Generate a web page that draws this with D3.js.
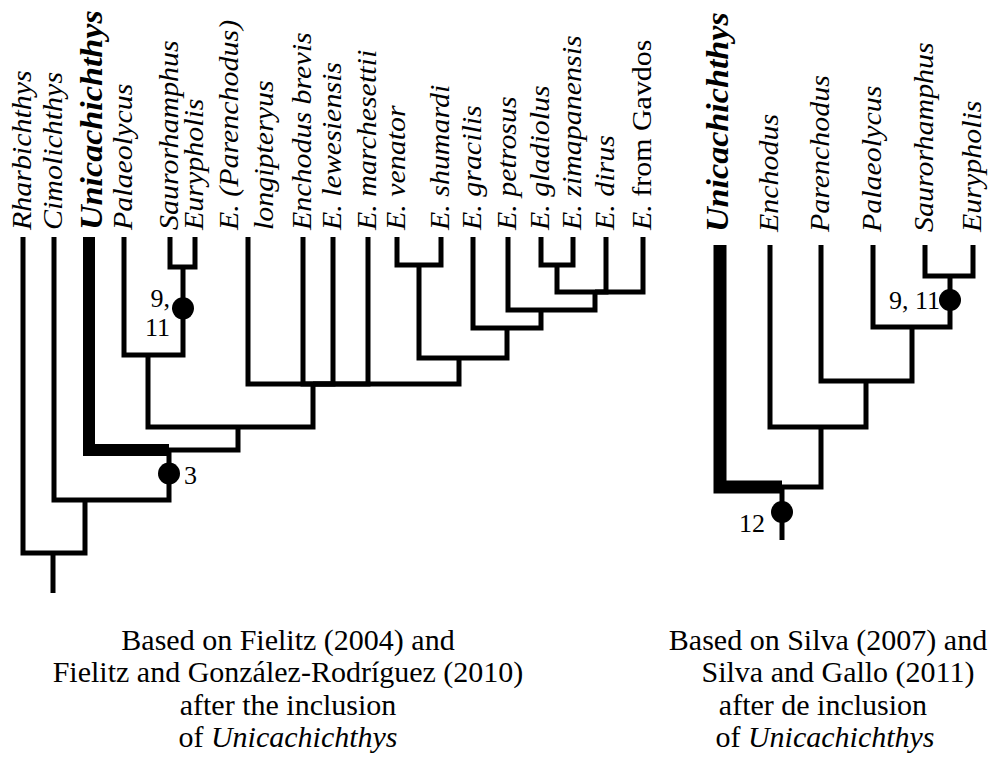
<!DOCTYPE html>
<html lang="en">
<head>
<meta charset="UTF-8">
<title>Enchodontid cladograms</title>
<script src="https://d3js.org/d3.v7.min.js"></script>
<style>
  body { margin: 0; background: #fff; }
  .branch { fill: none; stroke: #000; stroke-linecap: butt; stroke-linejoin: miter; }
  .taxon { font-family: "Liberation Serif", "Times New Roman", serif; font-style: italic; font-size: 28px; }
  .taxon.focal { font-weight: bold; font-size: 31px; }
  .caption { font-family: "Liberation Serif", "Times New Roman", serif; font-size: 30px; }
  .mlabel { font-family: "Liberation Serif", "Times New Roman", serif; font-size: 26px; }
</style>
</head>
<body>
<svg width="995" height="757"></svg>
<script>
// ---- left tree: Fielitz (2004) + Fielitz & González-Rodríguez (2010) ----
const leftTaxa = ["Rharbichthys", "Cimolichthys", "Unicachichthys", "Palaeolycus", "Saurorhamphus",
  "Eurypholis", "E. (Parenchodus)\nlongipteryus", "Enchodus brevis", "E. lewesiensis", "E. marchesettii",
  "E. venator", "E. shumardi", "E. gracilis", "E. petrosus", "E. gladiolus", "E. zimapanensis",
  "E. dirus", "E. from Gavdos"];
// tip positions along the tip row
const leftTipPos = [0, 31, 66, 101, 147, 172, 225, 280, 310, 345, 374, 418, 450, 485, 518, 550, 583, 620];
const leftTipParent = ["L0", "L1", "L2", "L4", "L5", "L5", "L6", "L6", "L6", "L6",
  "L8", "L8", "L9", "L10", "L12", "L12", "L11", "L11"];
// internal nodes
const leftNodeIds = ["L0", "L1", "L2", "L3", "L4", "L5", "L6", "L7", "L8", "L9", "L10", "L11", "L12"];
const leftNodeParent = [null, "L0", "L1", "L2", "L3", "L4", "L3", "L6", "L7", "L7", "L9", "L10", "L11"];
const leftNodePos = [30, 62, 146, 215, 125, 160, 290, 436, 396, 484, 518, 572, 534];
const leftNodeDepth = [316, 263, 213, 190, 118, 30, 147, 121, 28, 91, 73, 55, 28];
const leftStemEnd = 356;
const leftMarkerNodes = ["L5", "L2"];
const leftMarkerText = [["9,", "11"], ["3"]];
const leftCaption = ["Based on Fielitz (2004) and", "Fielitz and González-Rodríguez (2010)",
  "after the inclusion", "of Unicachichthys"];

// ---- right tree: Silva (2007) + Silva & Gallo (2011) ----
const rightTaxa = ["Unicachichthys", "Enchodus", "Parenchodus", "Palaeolycus", "Saurorhamphus", "Eurypholis"];
const rightTipPos = [0, 50, 101, 153, 205, 253];
const rightTipParent = ["R0", "R1", "R2", "R3", "R4", "R4"];
const rightNodeIds = ["R0", "R1", "R2", "R3", "R4"];
const rightNodeParent = [null, "R0", "R1", "R2", "R3"];
const rightNodePos = [62, 101, 146, 192, 230];
const rightNodeDepth = [242, 182, 136, 82, 31];
const rightStemEnd = 295;
const rightMarkerNodes = ["R4", "R0"];
const rightMarkerText = [["9, 11"], ["12"]];
const rightCaption = ["Based on Silva (2007) and", "Silva and Gallo (2011)",
  "after de inclusion", "of Unicachichthys"];

const focalTaxon = "Unicachichthys";

const svg = d3.select("svg");

function buildTable(taxa, tipPos, tipParent, ids, parents, pos, depth) {
  const rows = ids.map((id, i) => ({ id, parentId: parents[i], pos: pos[i], depth: depth[i] }));
  taxa.forEach((name, i) => rows.push({ id: "t" + i, parentId: tipParent[i], pos: tipPos[i], depth: 0, name }));
  return d3.stratify().id(d => d.id).parentId(d => d.parentId)(rows);
}

function drawTree(opt) {
  const root = opt.root;
  const x = opt.x, y = opt.y;
  const g = svg.append("g");

  const isFocal = n => n.data.name === focalTaxon;

  g.selectAll("path.link")
    .data(root.links())
    .join("path")
    .attr("class", "branch")
    .attr("stroke-width", d => isFocal(d.target) ? opt.thick : 5)
    .attr("d", d => `M${x(d.target.data.pos)},${y(d.target.data.depth)}` +
      `V${y(d.source.data.depth)}H${x(d.source.data.pos)}`);

  // root stem
  g.append("path")
    .attr("class", "branch")
    .attr("stroke-width", 5)
    .attr("d", `M${x(root.data.pos)},${y(root.data.depth)}V${y(opt.stemEnd)}`);

  // tip labels, rotated
  const tips = g.selectAll("text.taxon")
    .data(root.leaves())
    .join("text")
    .attr("class", d => isFocal(d) ? "taxon focal" : "taxon");

  tips.each(function (d) {
    const t = d3.select(this);
    const lines = d.data.name.split("\n");
    const off = isFocal(d) ? opt.focalOff : (lines.length > 1 ? -10 : 8);
    const stretch = isFocal(d) ? 1.1 : 1.07;
    t.attr("transform", `translate(${x(d.data.pos) + off},${opt.labelY}) rotate(-90) scale(${stretch},1)`);
    lines.forEach((line, i) => {
      const ts = t.append("tspan").attr("x", 0).attr("y", i * 35);
      if (line.startsWith("E. from ")) {
        ts.text("E.");
        t.append("tspan").attr("font-style", "normal").text(line.slice(2));
      } else {
        ts.text(line);
      }
    });
  });

  // synapomorphy markers
  opt.markers.forEach((m, i) => {
    const node = root.descendants().find(n => n.id === m);
    const below = node.parent ? node.parent.data.depth : opt.stemEnd;
    const cx = x(node.data.pos);
    const cy = y(node.data.depth + (below - node.data.depth) * 0.47);
    g.append("circle").attr("cx", cx).attr("cy", cy).attr("r", 11).attr("fill", "#000");
    const lay = opt.markerLayout[i];
    const txt = g.append("text")
      .attr("class", "mlabel")
      .attr("text-anchor", lay.anchor)
      .attr("transform", `translate(${cx + lay.dx},${cy + lay.dy})`);
    opt.markerText[i].forEach((s, j) => {
      txt.append("tspan").attr("x", 0).attr("y", j * 29).text(s);
    });
  });

  // caption
  opt.caption.forEach((line, i) => {
    const t = g.append("text")
      .attr("class", "caption")
      .attr("text-anchor", "middle")
      .attr("x", opt.capX + (opt.capDx ? opt.capDx[i] : 0))
      .attr("y", 650 + i * 32.4);
    if (line.startsWith("of ")) {
      t.append("tspan").text("of ");
      t.append("tspan").attr("font-style", "italic").text(line.slice(3));
    } else {
      t.text(line);
    }
  });
}

const leftRoot = buildTable(leftTaxa, leftTipPos, leftTipParent, leftNodeIds, leftNodeParent, leftNodePos, leftNodeDepth);
const rightRoot = buildTable(rightTaxa, rightTipPos, rightTipParent, rightNodeIds, rightNodeParent, rightNodePos, rightNodeDepth);

drawTree({
  root: leftRoot,
  x: d3.scaleLinear().domain([0, 620]).range([23, 643]),
  y: d3.scaleLinear().domain([0, leftStemEnd]).range([237, 593]),
  stemEnd: leftStemEnd,
  thick: 12,
  focalOff: 13,
  labelY: 230,
  markers: leftMarkerNodes,
  markerText: leftMarkerText,
  markerLayout: [{ anchor: "end", dx: -13, dy: -1 }, { anchor: "start", dx: 15, dy: 10 }],
  caption: leftCaption,
  capX: 288
});

drawTree({
  root: rightRoot,
  x: d3.scaleLinear().domain([0, 253]).range([720, 973]),
  y: d3.scaleLinear().domain([0, rightStemEnd]).range([245, 540]),
  stemEnd: rightStemEnd,
  thick: 13,
  focalOff: 8,
  labelY: 232,
  markers: rightMarkerNodes,
  markerText: rightMarkerText,
  markerLayout: [{ anchor: "end", dx: -10, dy: 9 }, { anchor: "end", dx: -17, dy: 20 }],
  caption: rightCaption,
  capX: 828,
  capDx: [0, 10, -5, -3]
});
</script>
</body>
</html>
